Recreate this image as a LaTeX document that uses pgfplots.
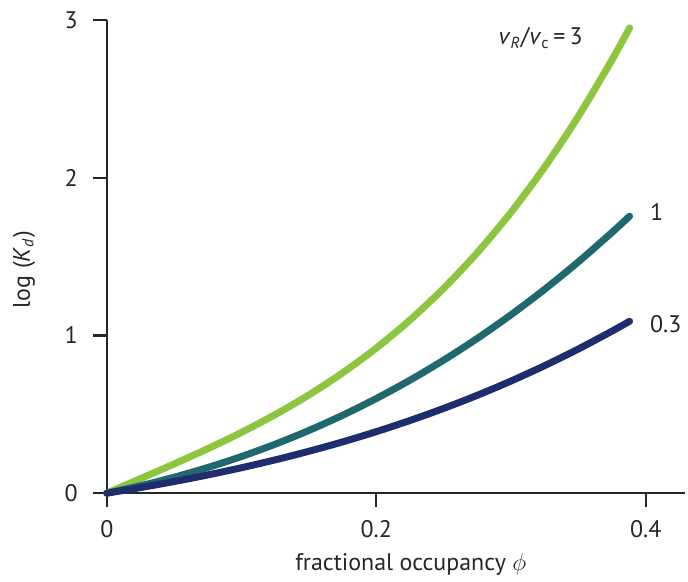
\documentclass[border=0pt]{standalone}
\usepackage{fontspec}
\setmainfont{PT Sans}
\usepackage{pgfplots}
\pgfplotsset{compat=1.18}
\definecolor{cgreen}{RGB}{140,198,63}
\definecolor{cteal}{RGB}{31,104,110}
\definecolor{cnavy}{RGB}{30,45,110}
\begin{document}
\begin{tikzpicture}
\begin{axis}[
  scale only axis,
  width=289.5pt, height=237pt,
  xmin=0, xmax=0.429, ymin=0, ymax=3,
  axis x line*=bottom, axis y line*=left,
  axis line style={line width=1.1pt, draw=black!85, -},
  xtick={0,0.2,0.4}, ytick={0,1,2,3},
  xticklabels={0,0.2,0.4},
  tick style={line width=1.1pt, black!85},
  tick align=outside, major tick length=7pt,
  /pgf/number format/assume math mode=true,
  ticklabel style={font=\fontsize{12}{14}\selectfont, text=black!85},
  xticklabel style={yshift=-3pt},
  yticklabel style={xshift=-4pt},
  xlabel={fractional occupancy $\phi$},
  ylabel={log (\textit{K}\textsubscript{\textit{d}})},
  label style={font=\fontsize{12}{14}\selectfont, text=black!85},
  xlabel style={xshift=7.5pt, yshift=-1pt},
  ylabel style={xshift=-6.5pt, yshift=8pt},
  clip=false,
]
\path (rel axis cs:0,0) ++(-53.5pt,-42.5pt);
\path (rel axis cs:1,1) ++(1pt,10pt);
\draw[line width=1.1pt, black!85] (rel axis cs:0,0) -- (rel axis cs:1,0);
\addplot[cgreen, line width=3.5pt, line cap=round, smooth] coordinates {
 (0,0) (0.025,0.0922) (0.05,0.1853) (0.075,0.2821) (0.1,0.3855) (0.125,0.4982)
 (0.15,0.623) (0.175,0.7626) (0.2,0.9199) (0.225,1.0976) (0.25,1.2985)
 (0.275,1.5254) (0.3,1.781) (0.325,2.0681) (0.35,2.3896) (0.375,2.7482) (0.388,2.9502)};
\addplot[cteal, line width=3.5pt, line cap=round, smooth] coordinates {
 (0,0) (0.025,0.047) (0.05,0.1011) (0.075,0.1628) (0.1,0.2325) (0.125,0.3106)
 (0.15,0.3976) (0.175,0.4939) (0.2,0.6) (0.225,0.7164) (0.25,0.8434)
 (0.275,0.9814) (0.3,1.1311) (0.325,1.2927) (0.35,1.4667) (0.375,1.6537) (0.388,1.7561)};
\addplot[cnavy, line width=3.5pt, line cap=round, smooth] coordinates {
 (0,0) (0.025,0.0354) (0.05,0.0738) (0.075,0.1156) (0.1,0.1613) (0.125,0.2112)
 (0.15,0.2657) (0.175,0.3251) (0.2,0.39) (0.225,0.4606) (0.25,0.5374)
 (0.275,0.6207) (0.3,0.711) (0.325,0.8087) (0.35,0.9141) (0.375,1.0276) (0.388,1.0899)};
\node[font=\fontsize{12}{14}\selectfont, text=black!85] at (axis cs:0.322,2.885)
  {\textit{v}\textsubscript{\textit{R}}/\textit{v}\textsubscript{c}\,=\,3};
\node[font=\fontsize{12}{14}\selectfont, text=black!85, anchor=west] at (axis cs:0.398,1.78) {1};
\node[font=\fontsize{12}{14}\selectfont, text=black!85, anchor=west] at (axis cs:0.398,1.07) {0.3};
\end{axis}
\end{tikzpicture}
\end{document}
